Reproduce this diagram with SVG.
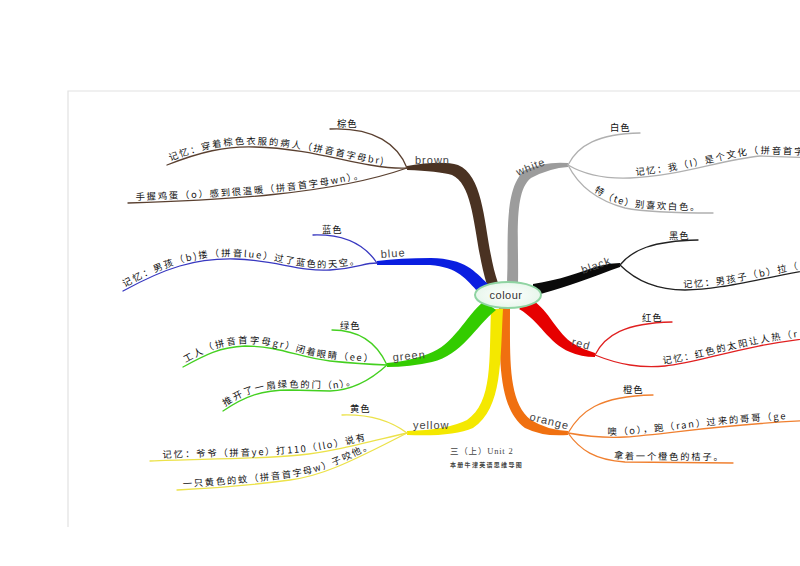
<svg xmlns="http://www.w3.org/2000/svg" width="800" height="566" viewBox="0 0 800 566">
<defs>
<style>
.cj{font-family:"Noto Sans CJK SC","Noto Sans",sans-serif;font-size:9.3px;fill:#111;letter-spacing:1.8px}
.sc{font-family:"Noto Sans CJK SC","Noto Sans",sans-serif;font-size:9.3px;fill:#111;letter-spacing:1px}
.lb{font-family:"Liberation Sans","DejaVu Sans",sans-serif;font-size:11px;fill:#444;letter-spacing:1px}
.sub{fill:none;stroke-width:1.3;stroke-linecap:round}
.brw{stroke:#5a4030}.wht{stroke:#b0b0b0}.blk{stroke:#222}.rd{stroke:#e02020}
.org{stroke:#f08030}.yel{stroke:#ece24a}.grn{stroke:#44d020}.blu{stroke:#3838c0}
</style>
<radialGradient id="cg" cx="50%" cy="50%" r="60%">
<stop offset="0" stop-color="#ffffff"/><stop offset="1" stop-color="#e3f5e8"/>
</radialGradient>
<path id="pBr1" d="M167,165 C200,152 225,146 255,147 C300,148 340,160 370,165 Q395,169 407,168"/>
<path id="pBr2" d="M128,203 C220,200 330,195 407,168"/>
<path id="pBl1" d="M123,291 C165,268 195,258 235,259 S300,272 330,270 S362,263 377,263"/>
<path id="pGr1" d="M183,367 C205,355 220,347 245,346 C280,346 300,358 330,361 Q360,364 387,365"/>
<path id="pGr2" d="M223,411 C245,396 262,390 290,390 L330,391 Q360,390 387,365"/>
<path id="pYe1" d="M150,461 C200,459 260,459 300,455 C330,452 360,444 407,433"/>
<path id="pYe2" d="M177,490 C220,488 260,484 290,480 C320,476 345,465 407,433"/>
<path id="pWh1" d="M568,165 C585,175 605,179 630,178 C680,176 720,160 760,156 L820,158"/>
<path id="pWh2" d="M568,165 C578,185 595,200 625,208 Q650,213 713,213"/>
<path id="pBk1" d="M620,265 C635,280 655,290 685,290 C720,290 760,278 820,268"/>
<path id="pRd1" d="M595,355 C620,365 640,368 665,366 C700,363 740,345 820,337"/>
<path id="pOr1" d="M568,433 C590,437 605,438 625,437 C670,434 720,424 820,420"/>
<path id="pOr2" d="M568,433 C580,450 595,460 625,462 L733,463"/>
</defs>
<rect width="800" height="566" fill="#ffffff"/>
<g id="page">
<path d="M68,527 L68,91 L800,91" fill="none" stroke="#e2e2e2" stroke-width="1.2"/>
</g>
<g id="connectors">
<path d="M487,285 C473,240 476,186 452,175 Q438,171 407,170 L407,166 Q442,160 458,165 C488,178 483,240 498,283 Z" fill="#4a3222"/>
<path d="M507,283 C509,240 503,188 525,170 Q546,161 568,163 L568,167 Q550,168 531,178 C513,192 519,240 518,283 Z" fill="#9c9c9c"/>
<path d="M533,284 C560,280 580,272 599,266 Q610,263 620,263 L620,267 Q611,270 601,274 C581,281 561,289 533,296 Z" fill="#0a0a0a"/>
<path d="M531,299 C550,311 556,333 574,344 Q584,350 595,353 L595,357 Q581,357 570,352 C548,343 540,321 519,309 Z" fill="#e60000"/>
<path d="M510,308 C510,360 508,402 531,420 Q547,430 568,431 L568,435 Q543,437 525,428 C498,408 500,360 499,308 Z" fill="#f07010"/>
<path d="M503,309 C500,360 503,408 473,428 Q452,437 407,435 L407,431 Q447,430 467,420 C493,402 489,360 491,309 Z" fill="#f4e800"/>
<path d="M496,310 C475,327 462,355 432,362 Q410,367 387,367 L387,363 Q410,361 428,354 C454,345 465,317 484,301 Z" fill="#33cc00"/>
<path d="M479,293 C466,279 458,267 430,265 Q400,265 377,265 L377,261 Q400,258 431,258 C466,259 474,271 488,284 Z" fill="#0a1ee0"/>
<path class="sub brw" d="M330,129 C375,127 398,145 407,168"/>
<use href="#pBr1" class="sub brw"/>
<use href="#pBr2" class="sub brw"/>
<path class="sub blu" d="M313,235 C345,234 365,245 377,263"/>
<use href="#pBl1" class="sub blu"/>
<path class="sub grn" d="M332,330 C362,330 378,345 387,365"/>
<use href="#pGr1" class="sub grn"/>
<use href="#pGr2" class="sub grn"/>
<path class="sub yel" d="M342,415 C375,414 395,424 407,433"/>
<use href="#pYe1" class="sub yel"/>
<use href="#pYe2" class="sub yel"/>
<path class="sub wht" d="M568,165 C578,145 598,134 640,133"/>
<use href="#pWh1" class="sub wht"/>
<use href="#pWh2" class="sub wht"/>
<path class="sub blk" d="M620,265 C632,250 652,241 698,240"/>
<use href="#pBk1" class="sub blk"/>
<path class="sub rd" d="M595,355 C605,335 625,323 672,322"/>
<use href="#pRd1" class="sub rd"/>
<path class="sub org" d="M568,433 C580,412 598,396 653,395"/>
<use href="#pOr1" class="sub org"/>
<use href="#pOr2" class="sub org"/>
</g>
<g id="node-colour">
<ellipse cx="508" cy="295" rx="33" ry="13" fill="url(#cg)" stroke="#8fd4a2" stroke-width="2"/>
<text x="506" y="299" class="lb" text-anchor="middle" style="fill:#333;letter-spacing:0.5px">colour</text>
</g>
<g id="node-brown">
<text x="415" y="164" class="lb">brown</text>
<text x="337" y="127" class="sc">棕色</text>
<text class="cj" dy="-2.5"><textPath href="#pBr1" startOffset="4">记忆：穿着棕色衣服的病人（拼音首字母br)</textPath></text>
<text class="cj" dy="-2.5"><textPath href="#pBr2" startOffset="8">手握鸡蛋（o）感到很温暖（拼音首字母wn）。</textPath></text>
</g>
<g id="node-blue">
<text x="381" y="258" class="lb" transform="rotate(-4 381 258)">blue</text>
<text x="322" y="233" class="sc">蓝色</text>
<text class="cj" dy="-2.5"><textPath href="#pBl1" startOffset="3">记忆：男孩（b)搂（拼音lue）过了蓝色的天空。</textPath></text>
</g>
<g id="node-green">
<text x="393" y="361" class="lb" transform="rotate(-5 393 361)">green</text>
<text x="340" y="329" class="sc">绿色</text>
<text class="cj" dy="-2.5"><textPath href="#pGr1" startOffset="4">工人（拼音首字母gr）闭着眼睛（ee）</textPath></text>
<text class="cj" dy="-2.5"><textPath href="#pGr2" startOffset="4">推开了一扇绿色的门（n）。</textPath></text>
</g>
<g id="node-yellow">
<text x="413" y="429" class="lb">yellow</text>
<text x="350" y="412" class="sc">黄色</text>
<text class="cj" dy="-2.5"><textPath href="#pYe1" startOffset="13">记忆：爷爷（拼音ye）打110（llo）说有</textPath></text>
<text class="cj" dy="-2.5"><textPath href="#pYe2" startOffset="6">一只黄色的蚊（拼音首字母w）子咬他。</textPath></text>
</g>
<g id="node-white">
<text x="518" y="176" class="lb" transform="rotate(-22 518 176)">white</text>
<text x="610" y="131" class="sc">白色</text>
<text class="cj" dy="-2.5"><textPath href="#pWh1" startOffset="70">记忆：我（I）是个文化（拼音首字母</textPath></text>
<text class="cj" dy="-2.5"><textPath href="#pWh2" startOffset="38">特（te）别喜欢白色。</textPath></text>
</g>
<g id="node-black">
<text x="583" y="274" class="lb" transform="rotate(-20 583 274)">black</text>
<text x="669" y="239" class="sc">黑色</text>
<text class="cj" dy="-2.5"><textPath href="#pBk1" startOffset="70">记忆：男孩子（b）拉（</textPath></text>
</g>
<g id="node-red">
<text x="571" y="345" class="lb" transform="rotate(15 571 345)">red</text>
<text x="642" y="321" class="sc">红色</text>
<text class="cj" dy="-2.5"><textPath href="#pRd1" startOffset="70">记忆：红色的太阳让人热（r</textPath></text>
</g>
<g id="node-orange">
<text x="529" y="420" class="lb" transform="rotate(14 529 420)">orange</text>
<text x="623" y="393" class="sc">橙色</text>
<text class="cj" dy="-2.5"><textPath href="#pOr1" startOffset="40">噢（o），跑（ran）过来的哥哥（ge</textPath></text>
<text class="cj" dy="-2.5"><textPath href="#pOr2" startOffset="55">拿着一个橙色的桔子。</textPath></text>
</g>
<g id="footer">
<text x="450" y="454" style="font-family:'Liberation Serif','Noto Sans CJK SC',serif;font-size:8.5px;fill:#444;letter-spacing:0.8px">三（上）Unit 2</text>
<text x="450" y="467" style="font-family:'Noto Sans CJK SC',sans-serif;font-size:6px;font-weight:bold;fill:#444;letter-spacing:1.3px">本册牛津英语思维导图</text>
</g>
</svg>
